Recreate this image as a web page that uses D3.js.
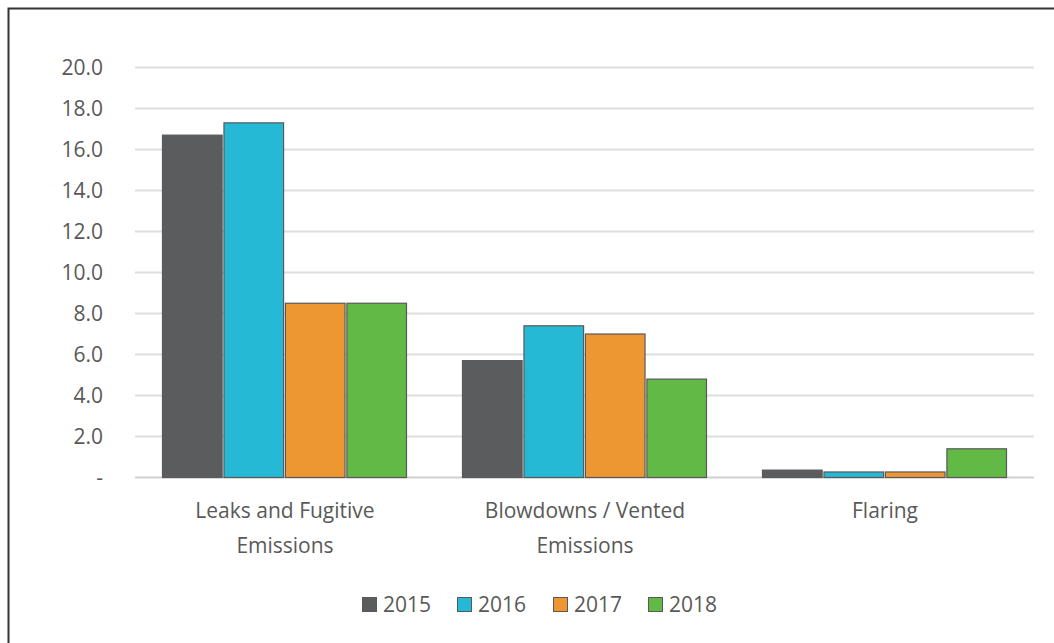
<!DOCTYPE html>
<html>
<head>
<meta charset="utf-8">
<script src="https://cdn.jsdelivr.net/npm/d3@7"></script>
<style>
  body { margin: 0; background: #fff; }
  text { font-family: "Open Sans", sans-serif; fill: #595959; }
</style>
</head>
<body>
<div class="chart"></div>
<script>
var categories = ['Leaks and Fugitive|Emissions', 'Blowdowns / Vented|Emissions', 'Flaring'];
var years = ['2015', '2016', '2017', '2018'];
var v2015 = [16.7, 5.7, 0.36];
var v2016 = [17.3, 7.4, 0.27];
var v2017 = [8.5, 7.0, 0.27];
var v2018 = [8.5, 4.8, 1.4];
var yTicks = [0, 2, 4, 6, 8, 10, 12, 14, 16, 18, 20];

var colors = ['#5b5c5e', '#25b9d6', '#ed9732', '#62b946'];
var series = [v2015, v2016, v2017, v2018];

var width = 1054;
var height = 643;

var svg = d3.select('.chart')
  .append('svg')
  .attr('width', width)
  .attr('height', height);

// outer frame, only top and left edges show in the picture
svg.append('rect')
  .attr('x', 8.5)
  .attr('y', 8.5)
  .attr('width', width + 20)
  .attr('height', height + 20)
  .attr('fill', 'none')
  .attr('stroke', '#333')
  .attr('stroke-width', 2);

var x0 = d3.scaleBand()
  .domain(categories)
  .range([135, 1035]);

var x1 = d3.scaleBand()
  .domain(years)
  .range([27, x0.bandwidth() - 29])
  .paddingInner(0.03);

var y = d3.scaleLinear()
  .domain([0, 20])
  .range([477, 67]);

// gridlines
svg.append('g')
  .selectAll('line')
  .data(yTicks)
  .enter().append('line')
  .attr('x1', 135)
  .attr('x2', 1034)
  .attr('y1', function(d){ return y(d) + 0.5; })
  .attr('y2', function(d){ return y(d) + 0.5; })
  .attr('stroke', function(d){ return d === 0 ? '#d0d0d0' : '#dedede'; })
  .attr('stroke-width', 2);

// y tick labels
svg.append('g')
  .selectAll('text')
  .data(yTicks)
  .enter().append('text')
  .attr('x', 103)
  .attr('y', function(d){ return y(d) + 8; })
  .attr('text-anchor', 'end')
  .attr('font-size', '21px')
  .text(function(d){ return d === 0 ? '-' : d3.format('.1f')(d); });

// bars
var groups = svg.append('g')
  .selectAll('g')
  .data(categories)
  .enter().append('g')
  .attr('transform', function(d){ return 'translate(' + x0(d) + ',0)'; });

groups.selectAll('rect')
  .data(function(d, i){
    return years.map(function(yr, j){ return {year: yr, value: series[j][i], color: colors[j]}; });
  })
  .enter().append('rect')
  .attr('x', function(d){ return x1(d.year) + 0.5; })
  .attr('y', function(d){ return y(d.value) + 0.5; })
  .attr('width', x1.bandwidth())
  .attr('height', function(d){ return y(0) - y(d.value); })
  .attr('fill', function(d){ return d.color; })
  .attr('stroke', '#595959')
  .attr('stroke-width', 1.2);

// category labels (two lines)
var catLabels = svg.append('g')
  .selectAll('text')
  .data(categories)
  .enter().append('text')
  .attr('text-anchor', 'middle')
  .attr('font-size', '21px')
  .attr('x', function(d){ return x0(d) + x0.bandwidth() / 2; })
  .attr('y', 518);

catLabels.selectAll('tspan')
  .data(function(d){ return d.split('|'); })
  .enter().append('tspan')
  .attr('x', function(){ var p = this.parentNode; return p.getAttribute('x'); })
  .attr('dy', function(d, i){ return i === 0 ? 0 : 35; })
  .text(function(d){ return d; });

// legend
var legendX = [362, 457, 553, 648];
var legend = svg.append('g')
  .selectAll('g')
  .data(years)
  .enter().append('g')
  .attr('transform', function(d, i){ return 'translate(' + legendX[i] + ',597)'; });

legend.append('rect')
  .attr('x', 0.5)
  .attr('y', 0.5)
  .attr('width', 14)
  .attr('height', 14)
  .attr('fill', function(d, i){ return colors[i]; })
  .attr('stroke', '#595959')
  .attr('stroke-width', 1);

legend.append('text')
  .attr('x', 21)
  .attr('y', 15)
  .attr('font-size', '21px')
  .text(function(d){ return d; });
</script>
</body>
</html>
